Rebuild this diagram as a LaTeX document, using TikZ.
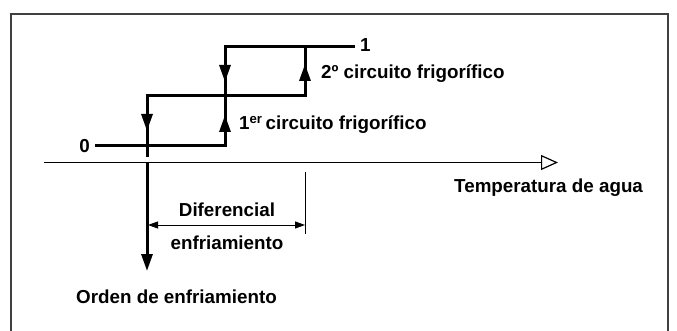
\documentclass[tikz,border=0pt]{standalone}
\usepackage{fontspec}
\setmainfont{Liberation Sans}
\usetikzlibrary{arrows.meta}
\begin{document}
\begin{tikzpicture}[x=1pt,y=-1pt,
  thickline/.style={line width=3pt},
  thinline/.style={line width=1.2pt},
  tip/.style={-{Triangle[length=17pt,width=11pt]}},
  lbl/.style={font=\bfseries\fontsize{18.8}{21}\selectfont, inner sep=0pt, text=black}]
\useasboundingbox (0,0) rectangle (677,331);
\clip (0,0) rectangle (677,331);
\draw[line width=1.6pt, draw=black!75] (11,340) -- (11,14) -- (668,14) -- (668,340);
% coordinates
\coordinate (a0) at (225,146);
\coordinate (a1) at (225,47);
\coordinate (e1) at (355,47);
\coordinate (m0) at (147,96);
\coordinate (m1) at (305,96);
\coordinate (b1) at (305,47);
\coordinate (lv) at (147,157);
% labels
\node[lbl, anchor=east] (zero) at (90,146) {0};
\node[lbl, anchor=west] (one) at (360,45) {1};
\node[lbl, anchor=west] (c2) at (321,74) {2º circuito frigorífico};
\node[lbl, anchor=west] (c1) at (239,125) {1\textsuperscript{er}\,circuito frigorífico};
\node[lbl, anchor=west] (temp) at (454,188) {Temperatura de agua};
\node[lbl] (dif) at (227,210) {Diferencial};
\node[lbl] (enf) at (227,243) {enfriamiento};
\node[lbl, anchor=west] (ord) at (76,297) {Orden de enfriamiento};
% hysteresis lines
\draw[thickline, line join=miter] ([xshift=5pt]zero.east) -- (a0) -- (a1) -- (e1);
\draw[thickline, line join=miter] (lv) -- (m0) -- (m1) -- (b1);
% arrows on verticals
\draw[thickline, tip] (m0) -- (147,131);
\draw[thickline, tip] (a1) -- (225,82);
\draw[thickline, tip] (a0) -- (225,115);
\draw[thickline, tip] (m1) -- (305,64);
% axis
\coordinate (ax0) at (44,162.5);
\coordinate (ax1) at (558,162.5);
\draw[thinline, -{Triangle[open,length=17pt,width=15pt,line width=1.2pt]}] (ax0) -- (ax1);
% cooling order arrow
\draw[thickline, tip] (147,162) -- (147,271);
% dimension
\coordinate (d0) at (305,172);
\coordinate (d1) at (305,234);
\draw[line width=1pt] (d0) -- (d1);
\draw[line width=1pt, {Triangle[length=10pt,width=7pt]}-{Triangle[length=10pt,width=7pt]}] (148,225) -- (305,225);
\end{tikzpicture}
\end{document}
